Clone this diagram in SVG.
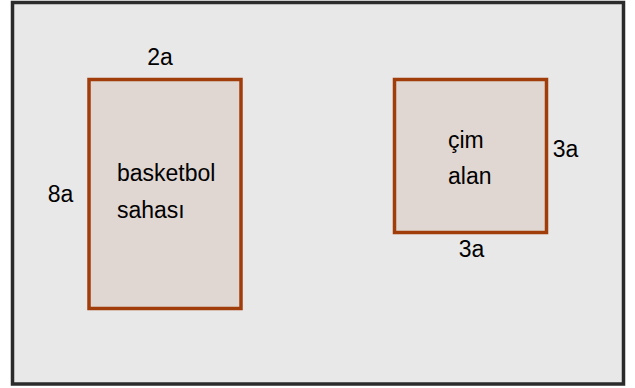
<svg xmlns="http://www.w3.org/2000/svg" width="635" height="388" viewBox="0 0 635 388">
<style>
.t{font-family:"Liberation Sans",Arial,sans-serif;font-size:23px;fill:#000}
.area{fill:#e0d7d2;stroke:#a13c0b;stroke-width:3.5}
</style>
<rect width="635" height="388" fill="#ffffff"/>
<g id="field">
<rect x="12.5" y="2.5" width="611" height="381.5" fill="#e8e8e8" stroke="#2b2b2b" stroke-width="3.5"/>
</g>
<g id="basketbol">
<rect class="area" x="89" y="79.5" width="152" height="229"/>
<text class="t" x="117" y="181">basketbol</text>
<text class="t" x="117" y="218">sahası</text>
<text class="t" x="160" y="65" text-anchor="middle">2a</text>
<text class="t" x="60.5" y="202" text-anchor="middle">8a</text>
</g>
<g id="cim">
<rect class="area" x="394.5" y="79.5" width="152" height="153"/>
<text class="t" x="448" y="148">çim</text>
<text class="t" x="448" y="184">alan</text>
<text class="t" x="565.5" y="157" text-anchor="middle">3a</text>
<text class="t" x="471.5" y="257" text-anchor="middle">3a</text>
</g>
<g id="connectors"/>
</svg>
